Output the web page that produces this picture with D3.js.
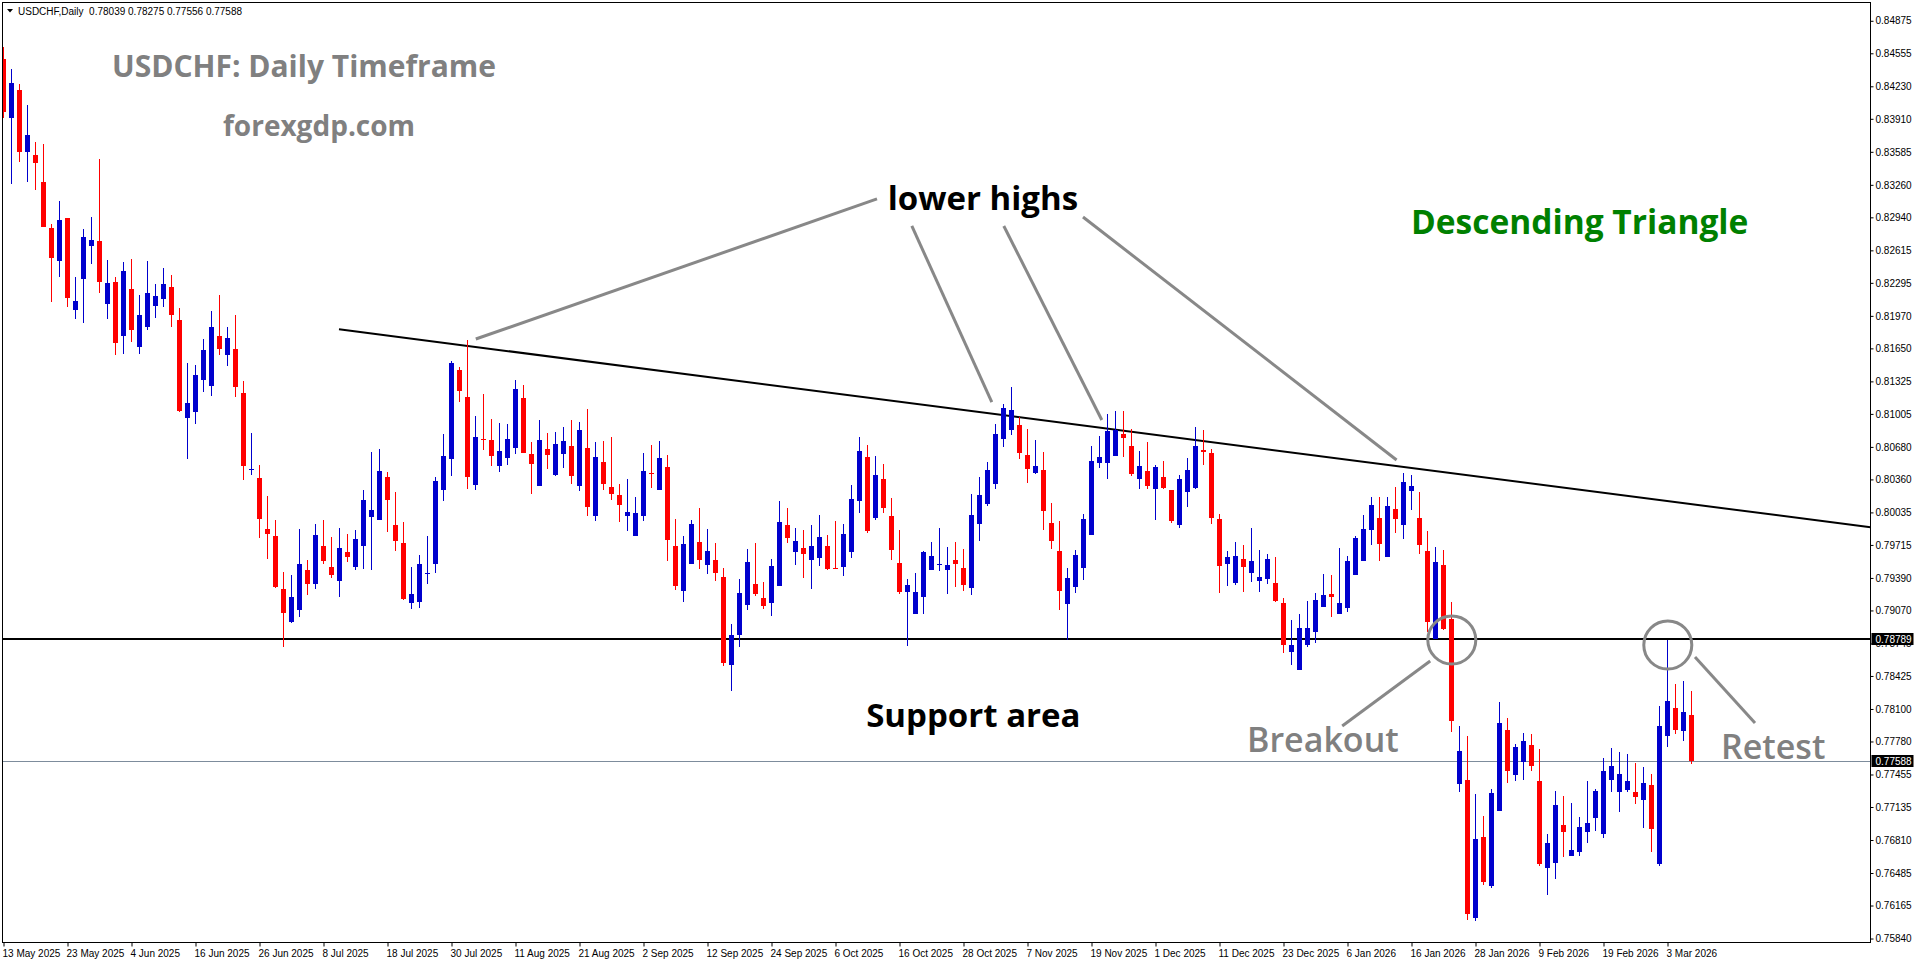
<!DOCTYPE html>
<html lang="en">
<head>
<meta charset="UTF-8">
<title>USDCHF Daily - Descending Triangle</title>
<script src="https://d3js.org/d3.v7.min.js"></script>
<style>
  body { margin: 0; background: #fff; }
  svg { display: block; }
  .axis text { font-family: "Liberation Sans", Arial, sans-serif; font-size: 10px; fill: #000; }
  .axis line { stroke: #000; }
  .axis path { display: none; }
  .note { font-family: "Open Sans", "Noto Sans", sans-serif; }
</style>
</head>
<body>
<svg width="1916" height="964"></svg>
<script>
// daily candles, 13 May 2025 .. 6 Mar 2026 (one per trading day)
const open = [
  0.84494,0.83922,0.84191,0.83582,0.83549,0.83288,0.82836,0.82513,0.82932,0.82032,
  0.82335,0.82662,0.82708,0.82090,0.82302,0.81775,0.82235,0.81668,0.81862,0.82070,
  0.82132,0.82252,0.81929,0.80963,0.81025,0.81336,0.81282,0.81771,0.81585,0.81643,
  0.81212,0.80458,0.80375,0.79869,0.79803,0.79281,0.78953,0.79078,0.79467,0.79326,
  0.79703,0.79496,0.79360,0.79645,0.79496,0.79708,0.79994,0.79956,0.80383,0.79911,
  0.79737,0.79140,0.79156,0.79434,0.79529,0.80255,0.80557,0.81436,0.81170,0.80308,
  0.80754,0.80748,0.80495,0.80574,0.80672,0.81161,0.80610,0.80298,0.80659,0.80406,
  0.80613,0.80689,0.80298,0.80669,0.80003,0.80531,0.80285,0.80206,0.80003,0.79806,
  0.80003,0.80423,0.80259,0.80482,0.79704,0.79264,0.79530,0.79743,0.79520,0.79566,
  0.79399,0.78536,0.78831,0.79126,0.79330,0.79195,0.79146,0.79313,0.79911,0.79648,
  0.79684,0.79569,0.79589,0.79704,0.79491,0.79500,0.79648,0.80150,0.80580,0.79980,
  0.80364,0.79999,0.79537,0.79254,0.79038,0.79205,0.79471,0.79517,0.79472,0.79564,
  0.79488,0.79294,0.79925,0.80118,0.80318,0.80758,0.80850,0.80896,0.80601,0.80423,
  0.80453,0.79931,0.79655,0.79137,0.79304,0.79491,0.79816,0.80525,0.80525,0.80594,
  0.80807,0.80689,0.80368,0.80443,0.80269,0.80384,0.80256,0.79915,0.80240,0.80279,
  0.80650,0.80620,0.79971,0.79531,0.79344,0.79577,0.79442,0.79363,0.79383,0.79340,
  0.79143,0.78664,0.78487,0.78730,0.78861,0.79107,0.79232,0.79038,0.79097,0.79422,
  0.79560,0.79865,0.79980,0.79600,0.80069,0.79915,0.80249,0.79980,0.79655,0.78792,
  0.79517,0.78989,0.77364,0.77400,0.76045,0.76839,0.76357,0.77098,0.77892,0.77453,
  0.77577,0.77745,0.77390,0.76537,0.76586,0.76957,0.76655,0.76695,0.76891,0.77029,
  0.76872,0.77403,0.77285,0.77302,0.77282,0.77207,0.77354,0.76578,0.77837,0.78109,
  0.77886,0.78039
];
const high = [
  0.84618,0.84403,0.84254,0.84046,0.83686,0.83665,0.82878,0.83102,0.82932,0.82351,
  0.82824,0.82948,0.83516,0.82521,0.82351,0.82505,0.82530,0.82173,0.82509,0.82285,
  0.82443,0.82372,0.82049,0.81502,0.81490,0.81742,0.82016,0.82173,0.81858,0.81979,
  0.81328,0.80818,0.80503,0.80192,0.79956,0.79447,0.79418,0.79869,0.79571,0.79923,
  0.79960,0.79794,0.79882,0.79824,0.79861,0.80255,0.80628,0.80661,0.80433,0.80234,
  0.79936,0.79496,0.79616,0.79803,0.80387,0.80806,0.81527,0.81469,0.81730,0.80984,
  0.81200,0.80954,0.80915,0.80905,0.81338,0.81289,0.80728,0.80944,0.80817,0.80827,
  0.80876,0.80944,0.80925,0.81053,0.80728,0.80738,0.80777,0.80314,0.80364,0.80186,
  0.80620,0.80698,0.80738,0.80600,0.79973,0.79802,0.79960,0.80078,0.79871,0.79733,
  0.79487,0.78936,0.79379,0.79678,0.79733,0.79350,0.79576,0.80147,0.80078,0.79881,
  0.79865,0.79911,0.80009,0.79812,0.79953,0.79924,0.80304,0.80780,0.80698,0.80593,
  0.80515,0.80177,0.79865,0.79382,0.79441,0.79658,0.79743,0.79881,0.79695,0.79744,
  0.79675,0.80217,0.80384,0.80532,0.80906,0.81106,0.81270,0.80975,0.80857,0.80748,
  0.80630,0.80128,0.79951,0.79488,0.79665,0.80020,0.80689,0.80788,0.81004,0.81034,
  0.81034,0.80857,0.80640,0.80729,0.80502,0.80542,0.80256,0.80407,0.80574,0.80876,
  0.80847,0.80660,0.80020,0.79655,0.79744,0.79715,0.79882,0.79665,0.79629,0.79596,
  0.79193,0.78979,0.79035,0.79163,0.79245,0.79432,0.79419,0.79688,0.79606,0.79806,
  0.80010,0.80187,0.80190,0.80190,0.80286,0.80423,0.80407,0.80240,0.79852,0.79694,
  0.79665,0.79153,0.77932,0.77833,0.77262,0.77046,0.77312,0.78168,0.78011,0.77755,
  0.77866,0.77853,0.77705,0.76872,0.77292,0.77246,0.77177,0.77036,0.77390,0.77315,
  0.77617,0.77719,0.77679,0.77660,0.77571,0.77532,0.77463,0.78126,0.78779,0.78345,
  0.78375,0.78275
];
const low = [
  0.83914,0.83271,0.83487,0.83292,0.83209,0.82849,0.82111,0.82356,0.82061,0.81941,
  0.81896,0.82476,0.82198,0.81941,0.81589,0.81597,0.81717,0.81597,0.81833,0.81945,
  0.82061,0.81862,0.81025,0.80565,0.80901,0.81220,0.81183,0.81581,0.81481,0.81170,
  0.80350,0.80400,0.79786,0.79579,0.79293,0.78713,0.78949,0.79007,0.79223,0.79277,
  0.79529,0.79389,0.79198,0.79542,0.79471,0.79480,0.79471,0.79956,0.79844,0.79658,
  0.79177,0.79086,0.79090,0.79335,0.79438,0.80151,0.80391,0.81125,0.80263,0.80255,
  0.80649,0.80495,0.80436,0.80505,0.80613,0.80623,0.80219,0.80298,0.80465,0.80396,
  0.80475,0.80318,0.80249,0.80003,0.79953,0.80259,0.80160,0.79943,0.79855,0.79806,
  0.79953,0.80278,0.80259,0.79560,0.79274,0.79156,0.79530,0.79481,0.79431,0.79363,
  0.78526,0.78280,0.78713,0.79077,0.79215,0.79087,0.79018,0.79313,0.79737,0.79520,
  0.79392,0.79284,0.79510,0.79471,0.79481,0.79412,0.79589,0.80032,0.79829,0.79960,
  0.80032,0.79569,0.79235,0.78723,0.79038,0.79038,0.79471,0.79461,0.79235,0.79298,
  0.79258,0.79219,0.79757,0.80095,0.80266,0.80683,0.80801,0.80565,0.80328,0.80417,
  0.79866,0.79678,0.79078,0.78779,0.79245,0.79373,0.79816,0.80476,0.80368,0.80594,
  0.80584,0.80397,0.80269,0.80269,0.79964,0.80269,0.79934,0.79885,0.80092,0.80266,
  0.80505,0.79925,0.79245,0.79314,0.79324,0.79255,0.79354,0.79255,0.79331,0.79157,
  0.78654,0.78536,0.78487,0.78713,0.78753,0.79107,0.79009,0.79038,0.79058,0.79422,
  0.79560,0.79718,0.79560,0.79600,0.79836,0.79777,0.80062,0.79629,0.78861,0.78792,
  0.78880,0.77876,0.77282,0.76022,0.76015,0.76370,0.76340,0.77098,0.77374,0.77394,
  0.77404,0.77492,0.76557,0.76271,0.76429,0.76645,0.76655,0.76655,0.76783,0.76901,
  0.76832,0.77285,0.77088,0.77285,0.77167,0.76931,0.76695,0.76557,0.77728,0.77856,
  0.77788,0.77556
];
const close = [
  0.83976,0.84266,0.83582,0.83752,0.83479,0.82849,0.82542,0.82915,0.82148,0.82115,
  0.82745,0.82716,0.82306,0.82293,0.81705,0.82409,0.81833,0.81979,0.82194,0.82161,
  0.82285,0.81983,0.81034,0.81112,0.81386,0.81635,0.81858,0.81639,0.81751,0.81274,
  0.80495,0.80466,0.79973,0.79819,0.79302,0.79049,0.79202,0.79525,0.79326,0.79811,
  0.79558,0.79414,0.79683,0.79600,0.79774,0.80155,0.80060,0.80441,0.80159,0.79749,
  0.79185,0.79231,0.79525,0.79442,0.80346,0.80590,0.81510,0.81233,0.80387,0.80777,
  0.80744,0.80593,0.80639,0.80757,0.81250,0.80623,0.80515,0.80748,0.80603,0.80708,
  0.80738,0.80396,0.80846,0.80091,0.80580,0.80318,0.80219,0.80111,0.80039,0.80029,
  0.80442,0.80416,0.80570,0.79766,0.79313,0.79724,0.79921,0.79569,0.79655,0.79441,
  0.78555,0.78828,0.79241,0.79546,0.79235,0.79116,0.79507,0.79940,0.79786,0.79753,
  0.79628,0.79704,0.79792,0.79481,0.79481,0.79822,0.80167,0.80639,0.79855,0.80406,
  0.80081,0.79668,0.79254,0.79320,0.79251,0.79645,0.79605,0.79523,0.79518,0.79531,
  0.79324,0.80010,0.80207,0.80453,0.80807,0.81063,0.81044,0.80620,0.80466,0.80492,
  0.80053,0.79757,0.79265,0.79390,0.79616,0.79971,0.80542,0.80581,0.80837,0.80847,
  0.80771,0.80414,0.80492,0.80299,0.80483,0.80279,0.79954,0.80364,0.80453,0.80689,
  0.80627,0.79984,0.79511,0.79596,0.79606,0.79501,0.79557,0.79399,0.79577,0.79166,
  0.78733,0.78730,0.78897,0.78897,0.79176,0.79222,0.79206,0.79143,0.79557,0.79783,
  0.79872,0.80108,0.79728,0.80098,0.79974,0.80335,0.80299,0.79718,0.78959,0.79547,
  0.78890,0.77984,0.77686,0.76081,0.76819,0.76399,0.77272,0.77961,0.77492,0.77725,
  0.77784,0.77541,0.76578,0.76780,0.77154,0.76891,0.76711,0.76937,0.76980,0.77292,
  0.77489,0.77541,0.77463,0.77390,0.77236,0.77371,0.76921,0.77932,0.78181,0.77896,
  0.78070,0.77588
];

// one time label every 8 bars
const dateLabels = [
  "13 May 2025","23 May 2025","4 Jun 2025","16 Jun 2025","26 Jun 2025","8 Jul 2025",
  "18 Jul 2025","30 Jul 2025","11 Aug 2025","21 Aug 2025","2 Sep 2025","12 Sep 2025",
  "24 Sep 2025","6 Oct 2025","16 Oct 2025","28 Oct 2025","7 Nov 2025","19 Nov 2025",
  "1 Dec 2025","11 Dec 2025","23 Dec 2025","6 Jan 2026","16 Jan 2026","28 Jan 2026",
  "9 Feb 2026","19 Feb 2026","3 Mar 2026"
];
const priceTicks = [
  0.84875,0.84555,0.84230,0.83910,0.83585,0.83260,0.82940,0.82615,0.82295,0.81970,
  0.81650,0.81325,0.81005,0.80680,0.80360,0.80035,0.79715,0.79390,0.79070,0.78745,
  0.78425,0.78100,0.77780,0.77455,0.77135,0.76810,0.76485,0.76165,0.75840
];
const supportLevel = 0.78789;
const lastPrice = 0.77588;
// trendline anchors: [bar, price]
const trendPoints = [[42, 0.81838], [200, 0.80229]];

const svg = d3.select("svg");
const W = 1916, H = 964;
const plot = { left: 2.5, top: 2.5, right: 1870.5, bottom: 942.5 };

svg.append("rect").attr("width", W).attr("height", H).attr("fill", "#fff");

const x = d3.scaleLinear().domain([0, 211]).range([3, 1691]);
const y = d3.scaleLinear().domain([0.75796, 0.85060]).range([943, 2]);

svg.append("defs").append("clipPath").attr("id", "clip")
  .append("rect")
  .attr("x", plot.left).attr("y", plot.top)
  .attr("width", plot.right - plot.left).attr("height", plot.bottom - plot.top);

const chart = svg.append("g").attr("clip-path", "url(#clip)");

// horizontal lines
chart.append("line")
  .attr("x1", plot.left).attr("x2", plot.right)
  .attr("y1", Math.round(y(lastPrice)) + 0.5).attr("y2", Math.round(y(lastPrice)) + 0.5)
  .attr("stroke", "#7d8c9c").attr("stroke-width", 1);

chart.append("line")
  .attr("x1", plot.left).attr("x2", plot.right)
  .attr("y1", y(supportLevel)).attr("y2", y(supportLevel))
  .attr("stroke", "#000").attr("stroke-width", 2);

// trendline as a ray to the right edge
const [p0, p1] = trendPoints;
const slope = (p1[1] - p0[1]) / (p1[0] - p0[0]);
const barEnd = x.invert(plot.right);
chart.append("line")
  .attr("x1", x(p0[0])).attr("y1", y(p0[1]))
  .attr("x2", x(barEnd)).attr("y2", y(p0[1] + slope * (barEnd - p0[0])))
  .attr("stroke", "#000").attr("stroke-width", 2);

// candles
const bars = d3.range(open.length);
const colorOf = i => close[i] < open[i] ? "#ff0000" : "#0000cd";

const candles = chart.append("g").attr("shape-rendering", "crispEdges");
candles.selectAll("line.wick")
  .data(bars)
  .join("line")
  .attr("class", "wick")
  .attr("x1", i => Math.round(x(i)) + 0.5)
  .attr("x2", i => Math.round(x(i)) + 0.5)
  .attr("y1", i => y(high[i]))
  .attr("y2", i => y(low[i]))
  .attr("stroke", colorOf);

candles.selectAll("rect.body")
  .data(bars)
  .join("rect")
  .attr("class", "body")
  .attr("x", i => Math.round(x(i)) - 2)
  .attr("width", 5)
  .attr("y", i => y(Math.max(open[i], close[i])))
  .attr("height", i => Math.max(1, Math.abs(y(open[i]) - y(close[i]))))
  .attr("fill", colorOf);

// annotations anchored in bar / price
const gray = "#888888";
const pointers = [
  [109.25, 0.83121, 59.1, 0.81742],
  [113.6, 0.82855, 123.6, 0.81122],
  [125.1, 0.82855, 137.35, 0.80945],
  [135.0, 0.82943, 174.2, 0.80551],
  [167.4, 0.77933, 178.4, 0.78572],
  [211.5, 0.78612, 219.0, 0.77962]
];
const ann = chart.append("g");
ann.selectAll("line.ptr")
  .data(pointers)
  .join("line")
  .attr("class", "ptr")
  .attr("x1", d => x(d[0])).attr("y1", d => y(d[1]))
  .attr("x2", d => x(d[2])).attr("y2", d => y(d[3]))
  .attr("stroke", gray).attr("stroke-width", 3);

const rings = [[181.1, 0.78779], [208.1, 0.78730]];
ann.selectAll("circle")
  .data(rings)
  .join("circle")
  .attr("cx", d => x(d[0])).attr("cy", d => y(d[1]))
  .attr("r", 24)
  .attr("fill", "none").attr("stroke", gray).attr("stroke-width", 3);

const notes = [
  { text: "USDCHF: Daily Timeframe", bar: 13.625, price: 0.84322, size: 30, weight: 700, color: "#808080" },
  { text: "forexgdp.com", bar: 27.5, price: 0.83741, size: 28, weight: 700, color: "#808080" },
  { text: "lower highs", bar: 110.6, price: 0.83012, size: 33, weight: 700, color: "#000" },
  { text: "Descending Triangle", bar: 176.0, price: 0.82776, size: 33.5, weight: 700, color: "#008000" },
  { text: "Support area", bar: 107.9, price: 0.77923, size: 33, weight: 700, color: "#000" },
  { text: "Breakout", bar: 155.5, price: 0.77677, size: 34, weight: 600, color: "#808080" },
  { text: "Retest", bar: 214.75, price: 0.77608, size: 34, weight: 600, color: "#808080" }
];
ann.selectAll("text")
  .data(notes)
  .join("text")
  .attr("class", "note")
  .attr("x", d => x(d.bar)).attr("y", d => y(d.price))
  .attr("font-size", d => d.size)
  .attr("font-weight", d => d.weight)
  .attr("fill", d => d.color)
  .text(d => d.text);

// header
svg.append("path")
  .attr("d", "M7,9 L13,9 L10,12.5 Z").attr("fill", "#000");
svg.append("text")
  .attr("x", 18).attr("y", 14.5)
  .attr("font-family", "Liberation Sans, Arial, sans-serif")
  .attr("font-size", 10)
  .style("white-space", "pre")
  .text(`USDCHF,Daily  ${open[211].toFixed(5)} ${high[211].toFixed(5)} ${low[211].toFixed(5)} ${close[211].toFixed(5)}`);

// frame
svg.append("rect")
  .attr("x", plot.left).attr("y", plot.top)
  .attr("width", plot.right - plot.left).attr("height", plot.bottom - plot.top)
  .attr("fill", "none").attr("stroke", "#000").attr("stroke-width", 1);

// axes
const labelBars = dateLabels.map((d, k) => k * 8);
svg.append("g")
  .attr("class", "axis")
  .attr("transform", `translate(0,${plot.bottom})`)
  .call(d3.axisBottom(x).tickValues(labelBars)
    .tickFormat((d, k) => dateLabels[k]).tickSize(4).tickPadding(3))
  .call(g => g.selectAll(".tick line").attr("transform", "translate(0.5,0)"))
  .call(g => g.selectAll(".tick text").attr("text-anchor", "start").attr("x", -1));

svg.append("g")
  .attr("class", "axis")
  .attr("transform", `translate(${plot.right},0)`)
  .call(d3.axisRight(y).tickValues(priceTicks)
    .tickFormat(d3.format(".5f")).tickSize(3).tickPadding(2));

// price boxes on the axis
const boxes = [supportLevel, lastPrice];
const boxG = svg.append("g").selectAll("g").data(boxes).join("g")
  .attr("transform", d => `translate(${plot.right + 1},${Math.round(y(d))})`);
boxG.append("rect")
  .attr("x", 0).attr("y", -6).attr("width", 42).attr("height", 12).attr("fill", "#000");
boxG.append("text")
  .attr("x", 4).attr("y", 4)
  .attr("font-family", "Liberation Sans, Arial, sans-serif")
  .attr("font-size", 10).attr("fill", "#fff")
  .text(d => d.toFixed(5));
</script>
</body>
</html>
